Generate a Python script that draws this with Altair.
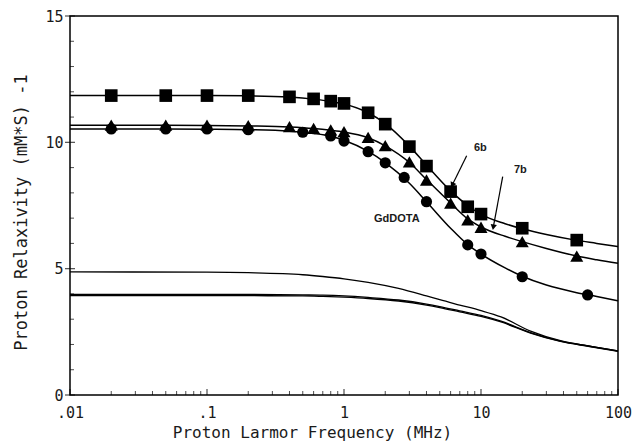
import altair as alt
import pandas as pd

# ---- measured data points ----
sq_f = [0.02, 0.05, 0.1, 0.2, 0.4, 0.6, 0.8, 1.0, 1.5, 2, 3, 4, 6, 8, 10, 20, 50]
sq_r = [11.85, 11.85, 11.85, 11.85, 11.8, 11.72, 11.63, 11.54, 11.17, 10.72, 9.83, 9.06, 8.05, 7.45, 7.16, 6.6, 6.13]

tr_f = [0.02, 0.05, 0.1, 0.2, 0.4, 0.6, 0.8, 1.0, 1.5, 2, 3, 4, 6, 8, 10, 20, 50]
tr_r = [10.68, 10.68, 10.68, 10.66, 10.62, 10.55, 10.49, 10.42, 10.2, 9.87, 9.23, 8.51, 7.59, 6.93, 6.64, 6.07, 5.5]

ci_f = [0.02, 0.05, 0.1, 0.2, 0.5, 0.8, 1.0, 1.5, 2, 2.75, 4, 8, 10, 20, 60]
ci_r = [10.53, 10.53, 10.53, 10.5, 10.4, 10.25, 10.05, 9.63, 9.19, 8.61, 7.65, 5.94, 5.58, 4.68, 3.96]

# ---- fitted curves ----
cf = [0.01, 0.02, 0.05, 0.1, 0.2, 0.4, 0.6, 0.8, 1, 1.5, 2, 3, 4, 6, 8, 10, 15, 20, 30, 50, 70, 100]
sq_curve = [11.85, 11.85, 11.85, 11.85, 11.84, 11.79, 11.71, 11.62, 11.52, 11.17, 10.74, 9.85, 9.1, 8.08, 7.5, 7.15, 6.78, 6.58, 6.35, 6.12, 6.0, 5.87]
tr_curve = [10.68, 10.68, 10.68, 10.67, 10.65, 10.61, 10.55, 10.48, 10.41, 10.18, 9.86, 9.2, 8.53, 7.6, 6.97, 6.65, 6.28, 6.07, 5.8, 5.5, 5.35, 5.21]
ci_curve = [10.53, 10.53, 10.53, 10.52, 10.5, 10.44, 10.35, 10.24, 10.08, 9.64, 9.2, 8.38, 7.65, 6.6, 5.95, 5.58, 5.03, 4.7, 4.35, 4.05, 3.9, 3.73]

lf = [0.01, 0.1, 0.2, 0.5, 0.7, 1, 1.5, 2.5, 4, 5, 7, 10, 14, 23, 38, 62, 100]
low_upper = [4.87, 4.86, 4.84, 4.76, 4.69, 4.6, 4.46, 4.22, 3.92, 3.77, 3.56, 3.34, 3.09, 2.53, 2.15, 1.93, 1.74]
low_a = [3.98, 3.98, 3.98, 3.96, 3.95, 3.92, 3.86, 3.76, 3.6, 3.5, 3.33, 3.15, 2.92, 2.47, 2.13, 1.93, 1.74]
low_b = [3.93, 3.93, 3.93, 3.92, 3.9, 3.87, 3.82, 3.72, 3.56, 3.46, 3.29, 3.11, 2.89, 2.45, 2.12, 1.92, 1.73]

# ---- annotations ----
ann_text = ["6b", "7b", "GdDOTA"]
ann_f = [9.9, 19.4, 2.43]
ann_r = [9.79, 8.9, 6.96]

arrow_f1 = [7.86, 14.4]
arrow_r1 = [9.47, 8.64]
arrow_f2 = [6.17, 12.3]
arrow_r2 = [8.31, 6.64]
arrow_angle = [206, 190]

# ---- axes ----
x_major = [0.01, 0.1, 1, 10, 100]
x_labels = [".01", ".1", "1", "10", "100"]
x_minor = [m * d for d in [0.01, 0.1, 1, 10] for m in range(2, 10)]
y_major = [0, 5, 10, 15]
y_minor = [v for v in range(1, 15) if v % 5 != 0]

xscale = alt.Scale(type="log", domain=[0.01, 100], nice=False)
yscale = alt.Scale(domain=[0, 15], nice=False, zero=True)

label_expr = " : ".join(
    f"datum.value == {v} ? '{t}'" for v, t in zip(x_major, x_labels)
) + " : ''"

FONT = "DejaVu Sans Mono"
INK = "#1a1a1a"

x_axis = alt.Axis(values=x_major, labelExpr=label_expr, ticks=False, domain=False, grid=False,
                  labelFont=FONT, labelFontSize=15, labelColor=INK, labelPadding=10, labelFlush=False,
                  title="Proton Larmor Frequency  (MHz)", titleFont=FONT, titleFontSize=16,
                  titleFontWeight="normal", titleColor=INK, titleX=242, titleY=42,
                  titleAlign="center", titleBaseline="alphabetic")
y_axis = alt.Axis(values=y_major, ticks=False, domain=False, grid=False,
                  labelFont=FONT, labelFontSize=15, labelColor=INK, labelPadding=7,
                  title="Proton Relaxivity  (mM*S) -1", titleFont=FONT, titleFontSize=17,
                  titleFontWeight="normal", titleColor=INK, titleX=-49, titleY=196,
                  titleAngle=-90, titleAlign="center", titleBaseline="middle")


def X(field="f"):
    return alt.X(f"{field}:Q", scale=xscale, axis=x_axis)


def Y(field="r"):
    return alt.Y(f"{field}:Q", scale=yscale, axis=y_axis)


def curve_df(fs, rs, name):
    return pd.DataFrame({"f": fs, "r": rs, "s": name})


curves = pd.concat([
    curve_df(cf, sq_curve, "sq"),
    curve_df(cf, tr_curve, "tr"),
    curve_df(cf, ci_curve, "ci"),
])
low_curves = pd.concat([
    curve_df(lf, low_upper, "u"),
    curve_df(lf, low_a, "a"),
    curve_df(lf, low_b, "b"),
])

curve_layer = alt.Chart(curves).mark_line(color="black", strokeWidth=1.5, interpolate="monotone").encode(
    x=X(), y=Y(), detail="s:N",
)
low_layer = alt.Chart(low_curves).mark_line(color="black", strokeWidth=1.3, interpolate="monotone").encode(
    x=X(), y=Y(), detail="s:N",
)


def pts(fs, rs, shape, size):
    return alt.Chart(pd.DataFrame({"f": fs, "r": rs})).mark_point(
        shape=shape, filled=True, color="black", opacity=1, size=size, strokeWidth=0
    ).encode(x=X(), y=Y())


sq_layer = pts(sq_f, sq_r, "square", 160)
tr_layer = pts(tr_f, tr_r, "triangle-up", 170)
ci_layer = pts(ci_f, ci_r, "circle", 125)

ann_df = pd.DataFrame({"f": ann_f, "r": ann_r, "t": ann_text})
ann_layer = alt.Chart(ann_df).mark_text(font="Liberation Sans", fontSize=11, fontWeight="bold",
                                        color=INK).encode(x=X(), y=Y(), text="t:N")

arr_df = pd.DataFrame({"f": arrow_f1, "r": arrow_r1, "f2": arrow_f2, "r2": arrow_r2, "a": arrow_angle})
arr_rule = alt.Chart(arr_df).mark_rule(color="black", strokeWidth=1.2).encode(
    x=X(), y=Y(), x2="f2:Q", y2="r2:Q")
arr_head = alt.Chart(arr_df).mark_point(shape="triangle-up", filled=True, color="black", opacity=1,
                                        size=40, strokeWidth=0).encode(
    x=X("f2"), y=Y("r2"), angle=alt.Angle("a:Q", scale=None))

# tick marks (inward)
xmaj_df = pd.DataFrame({"f": x_major, "r": [0] * len(x_major)})
xmin_df = pd.DataFrame({"f": x_minor, "r": [0] * len(x_minor)})
ymaj_df = pd.DataFrame({"f": [0.01] * len(y_major), "r": y_major})
ymin_df = pd.DataFrame({"f": [0.01] * len(y_minor), "r": y_minor})

xmaj_t = alt.Chart(xmaj_df).mark_tick(orient="vertical", size=6, thickness=1.2, yOffset=-3,
                                      color="black").encode(x=X(), y=Y())
xmin_t = alt.Chart(xmin_df).mark_tick(orient="vertical", size=4, thickness=1, yOffset=-2,
                                      color="black").encode(x=X(), y=Y())
ymaj_t = alt.Chart(ymaj_df).mark_tick(orient="horizontal", size=10, thickness=1.2, xOffset=0,
                                      color="black").encode(x=X(), y=Y())
ymin_t = alt.Chart(ymin_df).mark_tick(orient="horizontal", size=4, thickness=1, xOffset=2,
                                      color="black").encode(x=X(), y=Y())

chart = alt.layer(
    curve_layer, low_layer, sq_layer, tr_layer, ci_layer,
    ann_layer, arr_rule, arr_head, xmaj_t, xmin_t, ymaj_t, ymin_t,
).properties(
    width=548, height=379,
    padding={"left": 62, "top": 8, "right": 14, "bottom": 49},
    autosize=alt.AutoSizeParams(type="none"),
    background="white",
).configure_view(stroke="black", strokeWidth=1.5)

chart.save("out.html", embed_options={"renderer": "svg", "actions": False})
